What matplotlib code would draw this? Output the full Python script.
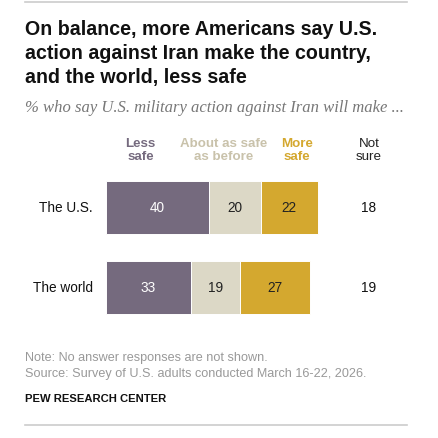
import numpy as np
import matplotlib
matplotlib.use("Agg")
import matplotlib.pyplot as plt
import matplotlib.transforms as mtransforms
from matplotlib.lines import Line2D

# ---- data ----
categories = ["The U.S.", "The world"]
less_safe = [40, 33]
about_same = [20, 19]
more_safe = [22, 27]
not_sure = [18, 19]
series_names = ["Less\nsafe", "About as safe\nas before", "More\nsafe"]

# ---- style ----
W, H = 438, 439
DPI = 100
C_LESS = "#756A7E"
C_SAME = "#DCD8C6"
C_MORE = "#D4A82F"
C_SAME_TXT = "#C9C2AB"
FONT = "Liberation Sans"

plt.rcParams["font.family"] = [FONT, "DejaVu Sans"]

fig = plt.figure(figsize=(W / DPI, H / DPI), dpi=DPI)
fig.patch.set_facecolor("white")
fig.canvas.draw()
renderer = fig.canvas.get_renderer()


def fx(x):
    return x / W


def fy(y):
    return 1 - y / H


def fit(t, target_px):
    """Scale a text's font size so that its rendered width is target_px."""
    for _ in range(3):
        w = t.get_window_extent(renderer=renderer).width
        t.set_fontsize(t.get_fontsize() * target_px / w)
    return t.get_fontsize()


# horizontal rules
for yy in (2.5, 426):
    fig.add_artist(Line2D([fx(25), fx(407)], [fy(yy), fy(yy)], color="#CCCCCC", lw=1.2,
                          transform=fig.transFigure))

# title
title_lines = ["On balance, more Americans say U.S.",
               "action against Iran make the country,",
               "and the world, less safe"]
tts = []
for i, line in enumerate(title_lines):
    tts.append(fig.text(fx(25), fy(35 + 24 * i), line, fontsize=13, fontweight="bold",
                        color="#111111", va="baseline", ha="left", family=FONT))
ts = fit(tts[0], 352)
for t in tts[1:]:
    t.set_fontsize(ts)

sub = fig.text(fx(25), fy(112), "% who say U.S. military action against Iran will make ...",
               fontsize=9, style="italic", color="#777777", va="baseline", ha="left",
               family="Liberation Serif")
fit(sub, 378)

# ---- bars ----
px_per_unit = 2.58
ax_left_px, ax_right_px = 106, 406
row_spacing = 80
row0_center = 208.5
ax_top_px = row0_center - row_spacing / 2
ax_bottom_px = row0_center + row_spacing * 1.5
ax = fig.add_axes([fx(ax_left_px), fy(ax_bottom_px),
                   (ax_right_px - ax_left_px) / W, (ax_bottom_px - ax_top_px) / H])
ax.set_xlim(0, (ax_right_px - ax_left_px) / px_per_unit)
ax.set_ylim(1.5, -0.5)
ax.axis("off")

blend = mtransforms.blended_transform_factory(fig.transFigure, ax.transData)

# row labels (size fitted from "The world")
row_txts = []
for j, cat in enumerate(categories):
    row_txts.append(ax.text(fx(93), j, cat, transform=blend, ha="right", va="center",
                            fontsize=10, color="#111111"))
lbl_size = fit(row_txts[1], 60)
row_txts[0].set_fontsize(lbl_size)

ypos = np.arange(len(categories))
vals = np.array([less_safe, about_same, more_safe], dtype=float)
lefts = np.vstack([np.zeros(len(categories)), np.cumsum(vals, axis=0)[:-1]])
colors = [C_LESS, C_SAME, C_MORE]
txt_colors = ["white", "#222222", "#222222"]
bar_h = 53 / row_spacing
for k in range(3):
    ax.barh(ypos, vals[k], left=lefts[k], height=bar_h, color=colors[k],
            edgecolor="white", linewidth=0.7)
    for j in range(len(categories)):
        ax.text(lefts[k][j] + vals[k][j] / 2, ypos[j], f"{int(vals[k][j])}",
                ha="center", va="center", fontsize=lbl_size, color=txt_colors[k])

for j in range(len(categories)):
    ax.text(fx(369), ypos[j], f"{not_sure[j]}", transform=blend, ha="center",
            va="center", fontsize=lbl_size, color="#111111")

# headers
hdr_x = [140.5, 224, 297]
hdr_c = [C_LESS, C_SAME_TXT, C_MORE]
probe = fig.text(0, 0, "About as safe", fontsize=9, fontweight="bold")
hdr_size = fit(probe, 88)
probe.remove()
for name, x, c in zip(series_names, hdr_x, hdr_c):
    fig.text(fx(x), fy(150.5), name, ha="center", va="center", fontsize=hdr_size,
             fontweight="bold", color=c, linespacing=1.2)
fig.text(fx(369), fy(150.5), "Not\nsure", ha="center", va="center", fontsize=hdr_size,
         color="#222222", linespacing=1.2)

# notes
note = fig.text(fx(25), fy(358), "Note: No answer responses are not shown.", fontsize=8.2,
                color="#999999", va="center", ha="left")
src = fig.text(fx(25), fy(374), "Source: Survey of U.S. adults conducted March 16-22, 2026.",
               fontsize=8.2, color="#999999", va="center", ha="left")
ns = fit(src, 341)
note.set_fontsize(ns)
pew = fig.text(fx(25), fy(399), "PEW RESEARCH CENTER", fontsize=8, fontweight="bold",
               color="#111111", va="center", ha="left")
fit(pew, 141)

fig.savefig("out.png", dpi=DPI, facecolor="white")
